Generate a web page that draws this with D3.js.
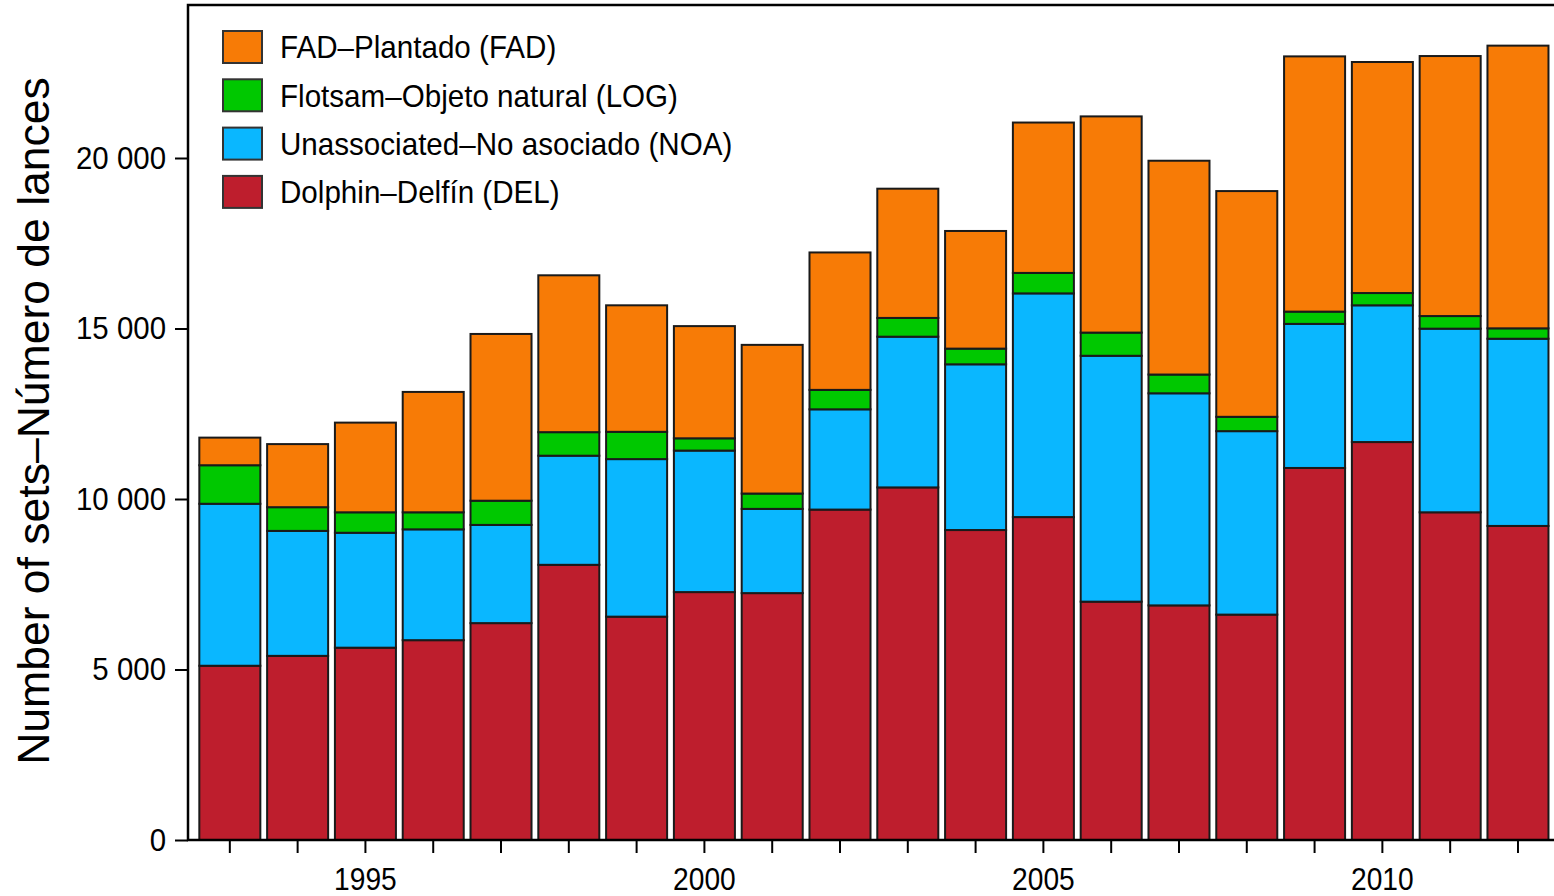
<!DOCTYPE html>
<html>
<head>
<meta charset="utf-8">
<script src="https://cdn.jsdelivr.net/npm/d3@7"></script>
<style>
  html, body { margin: 0; padding: 0; background: #fff; }
  svg { display: block; }
  text { font-family: "Liberation Sans", Arial, sans-serif; fill: #000; }
</style>
</head>
<body>
<svg id="chart" width="1554" height="896"></svg>
<script>
// ---- data (number of sets by set type) ----
const years = [1993,1994,1995,1996,1997,1998,1999,2000,2001,2002,2003,2004,2005,2006,2007,2008,2009,2010,2011,2012];
const DEL = [5110,5400,5640,5860,6360,8070,6550,7270,7240,9690,10340,9090,9470,6990,6880,6610,10910,11670,9610,9210];
const NOA = [4750,3665,3370,3250,2880,3200,4620,4150,2470,2940,4420,4860,6560,7210,6220,5380,4225,4010,5385,5490];
const LOG = [1130,695,600,500,710,690,800,360,450,570,550,460,600,680,550,420,360,360,370,305];
const FAD = [810,1850,2630,3530,4890,4600,3710,3290,4360,4030,3790,3450,4410,6340,6270,6620,7485,6775,7625,8290];
const seriesKeys = ["DEL","NOA","LOG","FAD"];
const seriesLabels = {
  FAD: "FAD\u2013Plantado (FAD)",
  LOG: "Flotsam\u2013Objeto natural (LOG)",
  NOA: "Unassociated\u2013No asociado (NOA)",
  DEL: "Dolphin\u2013Delf\u00edn (DEL)"
};
const legendOrder = ["FAD","LOG","NOA","DEL"];
const yTicks = [0,5000,10000,15000,20000];
const xLabelYears = [1995,2000,2005,2010];

// ---- styles ----
const colors = { FAD: "#f77b06", LOG: "#00c800", NOA: "#0ab7ff", DEL: "#be1e2d" };
const svg = d3.select("#chart");
const plotLeft = 188, plotTop = 5, plotBottom = 840;

const table = years.map((yr, i) => ({ year: yr, DEL: DEL[i], NOA: NOA[i], LOG: LOG[i], FAD: FAD[i] }));
const stacked = d3.stack().keys(seriesKeys)(table);

const x = d3.scaleBand().domain(years).range([plotLeft, 1559.8]).paddingInner(0.1).paddingOuter(0.167);
const y = d3.scaleLinear().domain([0, 20000]).range([plotBottom, 158]);

// bars
svg.append("g").selectAll("g").data(stacked).join("g")
  .attr("fill", d => colors[d.key])
  .selectAll("rect").data(d => d).join("rect")
  .attr("x", d => x(d.data.year))
  .attr("width", x.bandwidth())
  .attr("y", d => y(d[1]))
  .attr("height", d => y(d[0]) - y(d[1]))
  .attr("stroke", "#1a1a1a")
  .attr("stroke-width", 2);

// frame
svg.append("path")
  .attr("d", `M1560,${plotTop}H${plotLeft}V${plotBottom}H1560`)
  .attr("fill", "none").attr("stroke", "#000").attr("stroke-width", 2.5);

// y axis
const yAxis = svg.append("g").attr("transform", `translate(${plotLeft},0)`)
  .call(d3.axisLeft(y).tickValues(yTicks).tickSize(13).tickPadding(9)
        .tickFormat(d => d3.format(",")(d).replace(/,/g, " ")));
yAxis.select(".domain").remove();
yAxis.selectAll(".tick line").attr("stroke", "#000").attr("stroke-width", 2);
yAxis.selectAll(".tick text").attr("font-size", 32).attr("dy", "0.32em");
yAxis.selectAll(".tick text").each(function() {
  const t = d3.select(this);
  const xx = +t.attr("x");
  t.attr("transform", `translate(${xx},0) scale(0.92,1) translate(${-xx},0)`);
});

// x axis
const xAxis = svg.append("g").attr("transform", `translate(0,${plotBottom})`)
  .call(d3.axisBottom(x).tickSize(13).tickPadding(14)
        .tickFormat(d => xLabelYears.includes(d) ? String(d) : ""));
xAxis.select(".domain").remove();
xAxis.selectAll(".tick line").attr("stroke", "#000").attr("stroke-width", 2);
xAxis.selectAll(".tick text").attr("font-size", 32)
  .attr("transform", "scale(0.88,1)");

// y title
svg.append("text")
  .attr("transform", "translate(48.5,421) rotate(-90)")
  .attr("text-anchor", "middle")
  .attr("font-size", 44.5)
  .text("Number of sets\u2013N\u00famero de lances");

// legend
const leg = svg.append("g");
legendOrder.forEach((k, i) => {
  const gy = 31 + i * 48.3;
  leg.append("rect").attr("x", 223).attr("y", gy).attr("width", 39).attr("height", 32)
    .attr("fill", colors[k]).attr("stroke", "#333").attr("stroke-width", 2);
  leg.append("text")
    .attr("transform", `translate(280,${gy + 16}) scale(0.925,1)`)
    .attr("dy", "0.35em")
    .attr("font-size", 32)
    .text(seriesLabels[k]);
});
</script>
</body>
</html>
